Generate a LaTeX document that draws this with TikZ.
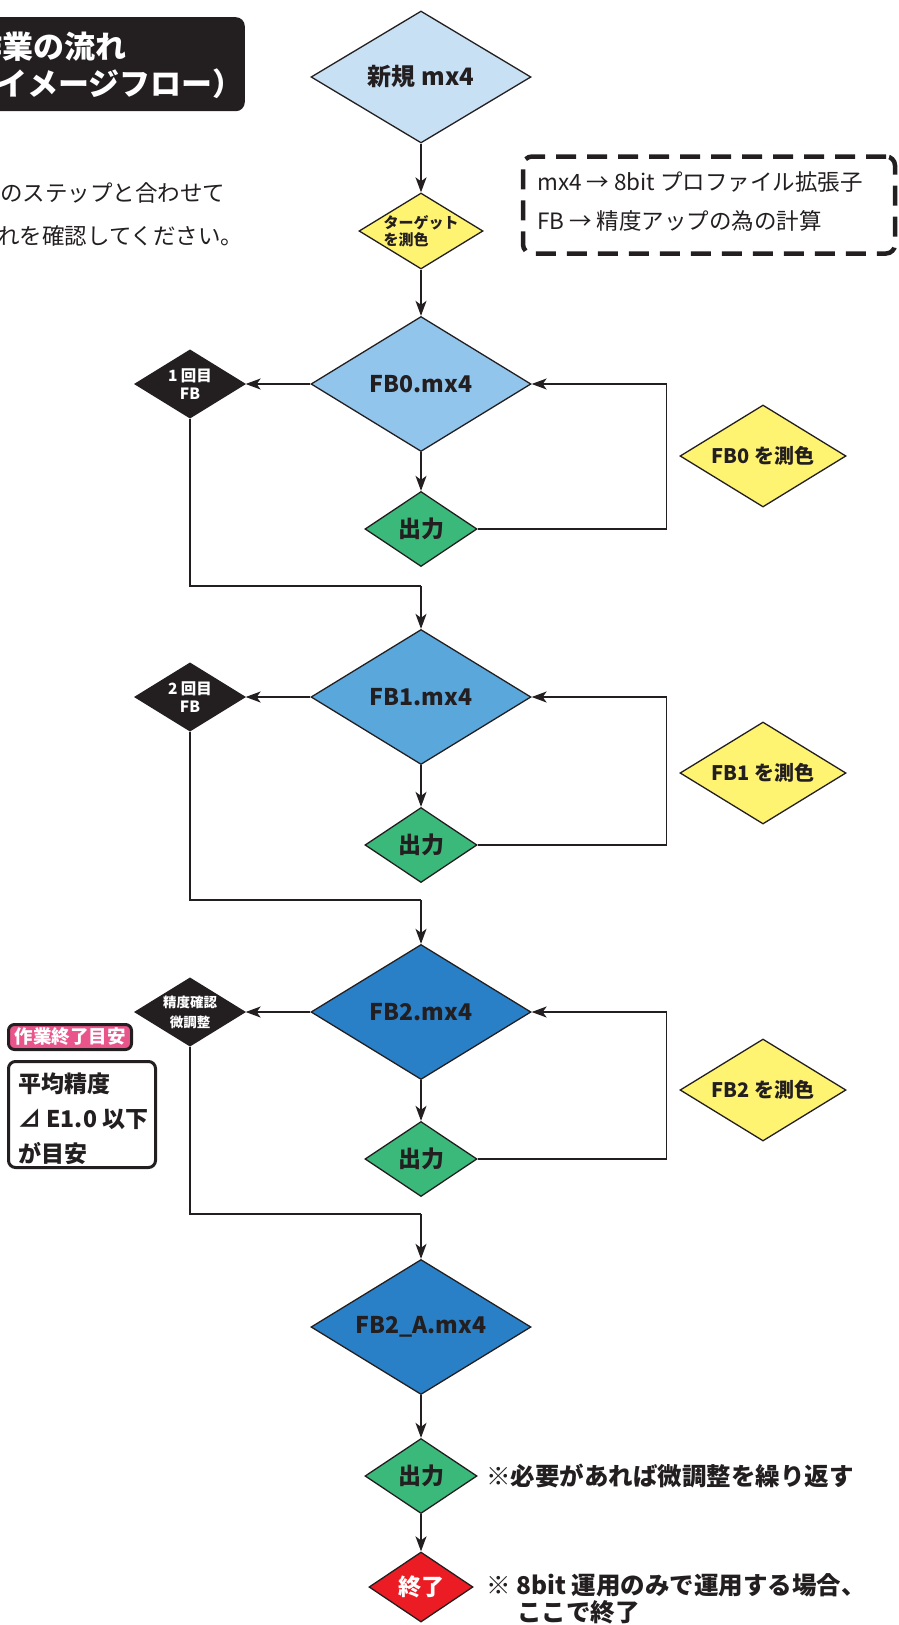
\documentclass[tikz,border=0pt]{standalone}
\usepackage{fontspec}
\setmainfont{Noto Sans CJK JP}
\usetikzlibrary{shapes.geometric,arrows.meta}
\definecolor{ink}{HTML}{231F20}
\definecolor{newblue}{HTML}{C8E0F4}
\definecolor{fbzero}{HTML}{92C5EB}
\definecolor{fbone}{HTML}{5AA7DC}
\definecolor{fbtwo}{HTML}{2A80C6}
\definecolor{outgreen}{HTML}{3BB97B}
\definecolor{measyellow}{HTML}{FFF372}
\definecolor{endred}{HTML}{EC1C24}
\definecolor{markpink}{HTML}{E9548B}
\newcommand{\fsz}[1]{\fontsize{#1}{#1}\selectfont}
\begin{document}
\begin{tikzpicture}[x=1pt,y=-1pt,
  dia/.style={diamond, aspect=1.6, draw=ink, line width=1.3pt, inner sep=-10pt, align=center, text=ink},
  big/.style={dia, minimum width=220pt, minimum height=135pt, font=\bfseries\fsz{23}},
  outd/.style={dia, fill=outgreen, minimum width=112pt, minimum height=75pt, font=\bfseries\fsz{23}},
  meas/.style={dia, fill=measyellow, minimum width=166pt, minimum height=102pt, font=\bfseries\fsz{20}},
  blk/.style={dia, fill=ink, text=white, minimum width=110pt, minimum height=68pt},
  txt/.style={inner sep=0pt, text=ink},
  conn/.style={draw=ink, line width=1.5pt},
  arr/.style={conn, -{Stealth[length=15pt,width=11pt,inset=4pt]}},
]
\useasboundingbox (0,0) rectangle (899,1625);
\clip (0,0) rectangle (899,1625);

% title
\node[fill=ink, rounded corners=9pt, anchor=north east, minimum width=300pt, minimum height=94pt, inner sep=0pt] (titlebox) at (245,17) {};
\node[txt, anchor=west, text=white, font=\bfseries\fsz{31}] (t1) at (-29,47) {作業の流れ};
\node[txt, anchor=west, text=white, font=\bfseries\fsz{31}] (t2) at (-35,84) {（イメージフロー）};
\node[txt, anchor=west, font=\fsz{22.5}] (b1) at (0,193) {のステップと合わせて};
\node[txt, anchor=west, font=\fsz{22.5}] (b2) at (-3,236) {れを確認してください。};

% legend
\node[draw=ink, line width=4.5pt, dash pattern=on 20pt off 11pt, rounded corners=9pt, minimum width=372pt, minimum height=97pt, inner sep=0pt] (legend) at (709,205) {};
\node[txt, anchor=west, font=\fsz{22.5}] (l1) at (537,182) {mx4 → 8bit プロファイル拡張子};
\node[txt, anchor=west, font=\fsz{22.5}] (l2) at (537,221) {FB → 精度アップの為の計算};

% main column
\node[dia, fill=newblue, minimum width=220pt, minimum height=132pt, font=\bfseries\fsz{24}] (new) at (421,77) {新規 mx4};
\node[dia, fill=measyellow, minimum width=124pt, minimum height=76pt, font=\bfseries\fontsize{15}{17}\selectfont, align=left] (target) at (421,231) {ターゲット\\を測色};

\node[big, fill=fbzero] (fb0) at (421,384) {FB0.mx4};
\node[outd] (out0) at (421,529) {出力};
\node[meas] (m0) at (763,456) {FB0 を測色};
\node[blk, font=\bfseries\fontsize{15.5}{18}\selectfont] (c0) at (190,384) {1 回目\\FB};
\coordinate (j0) at (421,586);

\node[big, fill=fbone] (fb1) at (421,697) {FB1.mx4};
\node[outd] (out1) at (421,845) {出力};
\node[meas] (m1) at (763,773) {FB1 を測色};
\node[blk, font=\bfseries\fontsize{15.5}{18}\selectfont] (c1) at (190,697) {2 回目\\FB};
\coordinate (j1) at (421,900);

\node[big, fill=fbtwo] (fb2) at (421,1012) {FB2.mx4};
\node[outd] (out2) at (421,1159) {出力};
\node[meas] (m2) at (763,1090) {FB2 を測色};
\node[blk, font=\bfseries\fontsize{13.5}{20}\selectfont] (c2) at (190,1012) {精度確認\\微調整};
\coordinate (j2) at (421,1214);

\node[big, fill=fbtwo] (fb2a) at (421,1327) {FB2\_A.mx4};
\node[outd] (out3) at (421,1476) {出力};
\node[dia, fill=endred, text=white, minimum width=104pt, minimum height=70pt, font=\bfseries\fsz{23}] (end) at (421,1587) {終了};

% goal notes
\node[fill=markpink, draw=ink, line width=3pt, rounded corners=6pt, minimum width=123pt, minimum height=25pt, inner sep=0pt, text=white, font=\bfseries\fsz{18.5}] (goal) at (70,1037) {作業終了目安};
\node[draw=ink, fill=white, line width=3pt, rounded corners=7pt, minimum width=147pt, minimum height=106pt, inner sep=0pt] (goalbox) at (82,1114.5) {};
\node[txt, anchor=west, font=\bfseries\fsz{23}] (g1) at (18,1084) {平均精度};
\node[txt, anchor=west, font=\bfseries\fsz{23}] (g2) at (18,1119) {⊿ E1.0 以下};
\node[txt, anchor=west, font=\bfseries\fsz{23}] (g3) at (18,1153) {が目安};

% bottom notes
\node[txt, anchor=west, font=\bfseries\fsz{24.5}] (n1) at (486,1476) {※必要があれば微調整を繰り返す};
\node[txt, anchor=west, font=\bfseries\fsz{24.5}] (n2) at (486,1585) {※ 8bit 運用のみで運用する場合、};
\node[txt, anchor=west, font=\bfseries\fsz{24.5}] (n3) at (517,1612) {ここで終了};

% connectors
\draw[arr] (new.south) -- (target.north);
\draw[arr] (target.south) -- (fb0.north);

\draw[arr] (fb0.south) -- (out0.north);
\draw[arr] (out0.east) -- ++(189,0) |- (fb0.east);
\draw[arr] (fb0.west) -- (c0.east);
\draw[conn] (c0.south) |- (j0);
\draw[arr] (j0) -- (fb1.north);

\draw[arr] (fb1.south) -- (out1.north);
\draw[arr] (out1.east) -- ++(189,0) |- (fb1.east);
\draw[arr] (fb1.west) -- (c1.east);
\draw[conn] (c1.south) |- (j1);
\draw[arr] (j1) -- (fb2.north);

\draw[arr] (fb2.south) -- (out2.north);
\draw[arr] (out2.east) -- ++(189,0) |- (fb2.east);
\draw[arr] (fb2.west) -- (c2.east);
\draw[conn] (c2.south) |- (j2);
\draw[arr] (j2) -- (fb2a.north);

\draw[arr] (fb2a.south) -- (out3.north);
\draw[arr] (out3.south) -- (end.north);
\end{tikzpicture}
\end{document}
